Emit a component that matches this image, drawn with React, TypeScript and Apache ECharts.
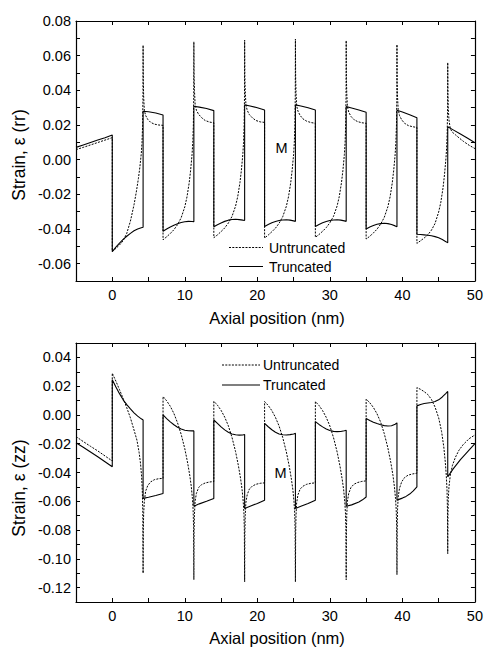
import React, { useEffect, useRef } from 'react';
import * as echarts from 'echarts';

const X_MIN = -5;
const X_MAX = 50;
const RR_MIN = -0.07;
const RR_MAX = 0.08;
const ZZ_MIN = -0.13;
const ZZ_MAX = 0.05;

const seriesNames = ['Untruncated', 'Truncated'];
const xAxisTitle = 'Axial position (nm)';
const rrTitle = 'Strain, ε (rr)';
const zzTitle = 'Strain, ε (zz)';
const regionLabel = 'M';

const rrTruncated: number[][] = [
  [-5, 0.0071], [-4, 0.0085], [-3, 0.0099], [-2, 0.0113], [-1, 0.0127], [0, 0.0142],
  [0, -0.053], [0.5, -0.0505], [1, -0.0482], [1.5, -0.046], [2, -0.0442], [2.5, -0.0425], [3, -0.041], [3.5, -0.04], [4, -0.0393], [4.25, -0.039],
  [4.25, 0.0279], [5, 0.0276], [6, 0.0269], [7, 0.0258],
  [7, -0.0413], [7.5, -0.04], [8, -0.0388], [8.5, -0.0378], [9, -0.037], [9.5, -0.0363], [10, -0.0358], [10.5, -0.0356], [11, -0.0357], [11.25, -0.0358],
  [11.25, 0.0308], [12, 0.0303], [13, 0.0295], [14, 0.0283],
  [14, -0.0387], [14.5, -0.0375], [15, -0.0365], [15.5, -0.0356], [16, -0.0349], [16.5, -0.0345], [17, -0.0344], [17.5, -0.0346], [18, -0.0349], [18.25, -0.035],
  [18.25, 0.0316], [19, 0.031], [20, 0.03], [21, 0.0287],
  [21, -0.0385], [21.5, -0.0374], [22, -0.0364], [22.5, -0.0357], [23, -0.0351], [23.5, -0.0348], [24, -0.0347], [24.5, -0.0349], [25, -0.0353], [25.25, -0.0356],
  [25.25, 0.0316], [26, 0.031], [27, 0.03], [28, 0.0287],
  [28, -0.0385], [28.5, -0.0374], [29, -0.0364], [29.5, -0.0357], [30, -0.0351], [30.5, -0.0348], [31, -0.0347], [31.5, -0.0349], [32, -0.0353], [32.25, -0.0356],
  [32.25, 0.0306], [33, 0.0298], [34, 0.0287], [35, 0.0273],
  [35, -0.04], [35.5, -0.0389], [36, -0.038], [36.5, -0.0373], [37, -0.0369], [37.5, -0.0367], [38, -0.0369], [38.5, -0.0374], [39, -0.0382], [39.25, -0.0387],
  [39.25, 0.0285], [40, 0.0275], [41, 0.0259], [42, 0.0242],
  [42, -0.043], [42.5, -0.0432], [43, -0.0434], [43.5, -0.0436], [44, -0.0439], [44.5, -0.0444], [45, -0.0451], [45.5, -0.0461], [46, -0.0473], [46.25, -0.048],
  [46.25, 0.019], [47, 0.0172], [48, 0.0148], [49, 0.0124], [50, 0.0098],
];

const rrUntruncated: number[][] = [
  [-5, 0.0058], [-4, 0.0071], [-3, 0.0085], [-2, 0.0099], [-1, 0.0113], [0, 0.0127],
  [0, -0.053], [0.5, -0.0512], [1, -0.0492], [1.5, -0.0468], [2, -0.0425], [2.5, -0.0355], [3, -0.026], [3.3, -0.019], [3.6, -0.011], [3.8, -0.0045], [4, 0.0035], [4.1, 0.01], [4.18, 0.0195], [4.23, 0.035], [4.25, 0.066],
  [4.28, 0.045], [4.33, 0.036], [4.42, 0.0285], [4.6, 0.0255], [4.9, 0.0232], [5.3, 0.0215], [5.8, 0.0205], [6.4, 0.02], [7, 0.0198],
  [7, -0.0462], [7.5, -0.0445], [8, -0.0426], [8.5, -0.0404], [9, -0.0375], [9.5, -0.0335], [10, -0.0272], [10.3, -0.0215], [10.6, -0.0135], [10.8, -0.0062], [11, 0.003], [11.1, 0.01], [11.18, 0.02], [11.23, 0.036], [11.25, 0.068],
  [11.28, 0.048], [11.33, 0.04], [11.42, 0.032], [11.6, 0.0285], [11.9, 0.0262], [12.3, 0.0243], [12.8, 0.0226], [13.4, 0.0217], [14, 0.0213],
  [14, -0.045], [14.5, -0.0434], [15, -0.0415], [15.5, -0.0394], [16, -0.0366], [16.5, -0.0328], [17, -0.0268], [17.3, -0.0212], [17.6, -0.0133], [17.8, -0.0061], [18, 0.003], [18.1, 0.01], [18.18, 0.02], [18.23, 0.036], [18.25, 0.069],
  [18.28, 0.048], [18.33, 0.04], [18.42, 0.032], [18.6, 0.0285], [18.9, 0.026], [19.3, 0.0242], [19.8, 0.0226], [20.4, 0.0218], [21, 0.0215],
  [21, -0.0452], [21.5, -0.0435], [22, -0.0416], [22.5, -0.0395], [23, -0.0367], [23.5, -0.0329], [24, -0.0269], [24.3, -0.0213], [24.6, -0.0134], [24.8, -0.0061], [25, 0.003], [25.1, 0.01], [25.18, 0.02], [25.23, 0.036], [25.25, 0.0696],
  [25.28, 0.048], [25.33, 0.039], [25.42, 0.031], [25.6, 0.028], [25.9, 0.0255], [26.3, 0.0235], [26.8, 0.0222], [27.4, 0.0214], [28, 0.021],
  [28, -0.0448], [28.5, -0.0432], [29, -0.0413], [29.5, -0.0392], [30, -0.0364], [30.5, -0.0327], [31, -0.0267], [31.3, -0.0212], [31.6, -0.0133], [31.8, -0.0061], [32, 0.003], [32.1, 0.01], [32.18, 0.02], [32.23, 0.036], [32.25, 0.0687],
  [32.28, 0.047], [32.33, 0.038], [32.42, 0.0305], [32.6, 0.0275], [32.9, 0.025], [33.3, 0.0232], [33.8, 0.022], [34.4, 0.0213], [35, 0.021],
  [35, -0.0458], [35.5, -0.0442], [36, -0.0423], [36.5, -0.0401], [37, -0.0372], [37.5, -0.0333], [38, -0.0271], [38.3, -0.0215], [38.6, -0.0135], [38.8, -0.0062], [39, 0.003], [39.1, 0.01], [39.18, 0.02], [39.23, 0.035], [39.25, 0.0664],
  [39.28, 0.045], [39.33, 0.036], [39.42, 0.029], [39.6, 0.0255], [39.9, 0.023], [40.3, 0.021], [40.8, 0.0197], [41.4, 0.019], [42, 0.0186],
  [42, -0.0483], [42.5, -0.0468], [43, -0.0452], [43.5, -0.0434], [44, -0.0407], [44.5, -0.0368], [45, -0.0302], [45.3, -0.0245], [45.6, -0.0163], [45.8, -0.0088], [46, 0.0005], [46.1, 0.007], [46.18, 0.016], [46.23, 0.03], [46.25, 0.056],
  [46.28, 0.038], [46.33, 0.029], [46.42, 0.023], [46.6, 0.0178], [46.9, 0.0158], [47.3, 0.0144], [47.8, 0.0126], [48.4, 0.0106], [49.2, 0.0083], [50, 0.0064],
];

const zzTruncated: number[][] = [
  [-5, -0.0193], [-4, -0.0225], [-3, -0.0258], [-2, -0.0291], [-1, -0.0325], [0, -0.036],
  [0, 0.0245], [0.5, 0.0195], [1, 0.0148], [1.5, 0.0105], [2, 0.0072], [2.5, 0.0042], [3, 0.0015], [3.5, -0.0008], [4, -0.0027], [4.25, -0.0035],
  [4.25, -0.058], [5, -0.0572], [6, -0.056], [7, -0.0546],
  [7, 0], [7.5, -0.0025], [8, -0.0048], [8.5, -0.0068], [9, -0.0085], [9.5, -0.0098], [10, -0.0106], [10.5, -0.011], [11, -0.0111], [11.25, -0.0111],
  [11.25, -0.0634], [12, -0.0618], [13, -0.06], [14, -0.058],
  [14, -0.0035], [14.5, -0.0058], [15, -0.0083], [15.5, -0.0104], [16, -0.012], [16.5, -0.0132], [17, -0.0138], [17.5, -0.014], [18, -0.0139], [18.25, -0.0136],
  [18.25, -0.065], [19, -0.0635], [20, -0.0615], [21, -0.0592],
  [21, -0.0058], [21.5, -0.0082], [22, -0.0103], [22.5, -0.012], [23, -0.0132], [23.5, -0.0138], [24, -0.0139], [24.5, -0.0137], [25, -0.0132], [25.25, -0.0128],
  [25.25, -0.065], [26, -0.0635], [27, -0.0615], [28, -0.0592],
  [28, -0.0046], [28.5, -0.0066], [29, -0.0083], [29.5, -0.0097], [30, -0.0108], [30.5, -0.0114], [31, -0.0116], [31.5, -0.0115], [32, -0.011], [32.25, -0.0106],
  [32.25, -0.0634], [33, -0.0625], [34, -0.0605], [34.5, -0.059], [35, -0.057],
  [35, -0.0025], [35.5, -0.0038], [36, -0.005], [36.5, -0.006], [37, -0.0068], [37.5, -0.0074], [38, -0.0077], [38.5, -0.0075], [39, -0.0065], [39.25, -0.0055],
  [39.25, -0.0592], [40, -0.0578], [40.5, -0.0566], [41, -0.055], [41.5, -0.0528], [42, -0.05],
  [42, 0.0063], [42.5, 0.0072], [43, 0.0079], [43.5, 0.0083], [44, 0.0086], [44.5, 0.0093], [45, 0.0105], [45.5, 0.0125], [46, 0.015], [46.25, 0.0163],
  [46.25, -0.043], [47, -0.0375], [48, -0.031], [49, -0.0255], [50, -0.02],
];

const zzUntruncated: number[][] = [
  [-5, -0.015], [-4, -0.0185], [-3, -0.0218], [-2, -0.025], [-1, -0.0285], [0, -0.032],
  [0, 0.029], [0.5, 0.0235], [1, 0.0175], [1.5, 0.0115], [2, 0.005], [2.5, -0.002], [3, -0.0105], [3.4, -0.0175], [3.7, -0.026], [3.9, -0.034], [4.05, -0.043], [4.15, -0.054], [4.21, -0.068], [4.25, -0.11],
  [4.28, -0.08], [4.33, -0.068], [4.42, -0.06], [4.6, -0.053], [4.9, -0.049], [5.3, -0.0465], [5.8, -0.045], [6.4, -0.0443], [7, -0.0441],
  [7, 0.0128], [7.5, 0.0098], [8, 0.006], [8.5, 0.001], [9, -0.0055], [9.5, -0.0135], [10, -0.0235], [10.4, -0.0335], [10.7, -0.0425], [10.9, -0.05], [11.05, -0.058], [11.15, -0.066], [11.21, -0.078], [11.25, -0.1145],
  [11.28, -0.082], [11.33, -0.069], [11.42, -0.06], [11.6, -0.0545], [11.9, -0.0505], [12.3, -0.0485], [12.8, -0.0473], [13.4, -0.0466], [14, -0.0463],
  [14, 0.0095], [14.5, 0.0068], [15, 0.0032], [15.5, -0.0015], [16, -0.0075], [16.5, -0.0155], [17, -0.0255], [17.4, -0.0355], [17.7, -0.0445], [17.9, -0.052], [18.05, -0.06], [18.15, -0.068], [18.21, -0.08], [18.25, -0.116],
  [18.28, -0.083], [18.33, -0.07], [18.42, -0.061], [18.6, -0.0555], [18.9, -0.0515], [19.3, -0.0495], [19.8, -0.0482], [20.4, -0.0475], [21, -0.0472],
  [21, 0.0093], [21.5, 0.0066], [22, 0.003], [22.5, -0.0017], [23, -0.0077], [23.5, -0.0157], [24, -0.0257], [24.4, -0.0357], [24.7, -0.0447], [24.9, -0.052], [25.05, -0.06], [25.15, -0.068], [25.21, -0.08], [25.25, -0.116],
  [25.28, -0.083], [25.33, -0.07], [25.42, -0.061], [25.6, -0.0555], [25.9, -0.0515], [26.3, -0.0495], [26.8, -0.0482], [27.4, -0.0475], [28, -0.0472],
  [28, 0.0093], [28.5, 0.0066], [29, 0.003], [29.5, -0.0017], [30, -0.0077], [30.5, -0.0157], [31, -0.0257], [31.4, -0.0357], [31.7, -0.0447], [31.9, -0.052], [32.05, -0.06], [32.15, -0.068], [32.21, -0.08], [32.25, -0.1145],
  [32.28, -0.082], [32.33, -0.069], [32.42, -0.06], [32.6, -0.0545], [32.9, -0.0505], [33.3, -0.0482], [33.8, -0.047], [34.4, -0.0462], [35, -0.0458],
  [35, 0.011], [35.5, 0.0085], [36, 0.0052], [36.5, 0.0008], [37, -0.005], [37.5, -0.013], [38, -0.023], [38.4, -0.033], [38.7, -0.042], [38.9, -0.05], [39.05, -0.058], [39.15, -0.066], [39.21, -0.078], [39.25, -0.111],
  [39.28, -0.08], [39.33, -0.066], [39.42, -0.057], [39.6, -0.051], [39.9, -0.0465], [40.3, -0.0435], [40.8, -0.0418], [41.4, -0.041], [42, -0.0405],
  [42, 0.019], [42.5, 0.0178], [43, 0.0162], [43.5, 0.0142], [44, 0.0108], [44.5, 0.0055], [45, -0.002], [45.4, -0.0115], [45.7, -0.022], [45.9, -0.032], [46.05, -0.042], [46.15, -0.052], [46.21, -0.065], [46.25, -0.0964],
  [46.28, -0.07], [46.33, -0.058], [46.42, -0.05], [46.6, -0.042], [46.9, -0.035], [47.3, -0.0295], [47.8, -0.0245], [48.4, -0.0205], [49.2, -0.0165], [50, -0.0139],
];

const FONT = '"Liberation Sans", Arial, Helvetica, sans-serif';
const DASH = [2, 1.3];

function xFmt(v: number) {
  const r = Math.round(v);
  return r % 10 === 0 ? String(r) : '';
}
function yFmt(v: number) {
  const k = Math.round(v * 100);
  return k % 2 === 0 ? (k / 100).toFixed(2) : '';
}

function makeXAxis(grid: number, position: 'bottom' | 'top') {
  return {
    type: 'value',
    gridIndex: grid,
    position,
    min: X_MIN,
    max: X_MAX,
    interval: 5,
    axisLine: { show: true, onZero: false, lineStyle: { color: '#000', width: 1.2 } },
    axisTick: { show: true, inside: true, length: 4, lineStyle: { color: '#000', width: 1 } },
    axisLabel: {
      show: position === 'bottom',
      formatter: xFmt,
      margin: 6,
      color: '#000',
      fontSize: 14.5,
      fontFamily: FONT,
    },
    splitLine: { show: false },
  };
}

function makeYAxis(grid: number, position: 'left' | 'right', min: number, max: number) {
  return {
    type: 'value',
    gridIndex: grid,
    position,
    min,
    max,
    interval: 0.01,
    axisLine: { show: true, onZero: false, lineStyle: { color: '#000', width: 1.2 } },
    axisTick: { show: true, inside: true, length: 4, lineStyle: { color: '#000', width: 1 } },
    axisLabel: {
      show: position === 'left',
      formatter: yFmt,
      margin: 5,
      color: '#000',
      fontSize: 14.5,
      fontFamily: FONT,
    },
    splitLine: { show: false },
  };
}

const dashedStyle = { color: '#000', width: 1, type: DASH };
const solidStyle = { color: '#000', width: 1.1, type: 'solid' };

function lineSeries(name: string, data: number[][], axis: number, style: any) {
  return {
    name,
    type: 'line',
    xAxisIndex: axis * 2,
    yAxisIndex: axis * 2,
    data,
    symbol: 'none',
    showSymbol: false,
    lineStyle: style,
    silent: true,
  };
}

function legendItems(x1: number, x2: number, y1: number, y2: number, tx: number) {
  const font = `14px ${FONT}`;
  return [
    { type: 'line', shape: { x1, y1, x2, y2: y1 }, style: { stroke: '#000', lineWidth: 1, lineDash: DASH } },
    { type: 'text', x: tx, y: y1, style: { text: seriesNames[0], font, fill: '#000', verticalAlign: 'middle', align: 'left' } },
    { type: 'line', shape: { x1, y1: y2, x2, y2 }, style: { stroke: '#000', lineWidth: 1.1 } },
    { type: 'text', x: tx, y: y2, style: { text: seriesNames[1], font, fill: '#000', verticalAlign: 'middle', align: 'left' } },
  ];
}

export default function App() {
  const ref = useRef<HTMLDivElement>(null);
  useEffect(() => {
    document.body.style.margin = '0';
    if (!ref.current) return;
    const chart = echarts.init(ref.current, undefined, { renderer: 'svg' });
    const titleFont = `16.5px ${FONT}`;
    const yTitleFont = `17.5px ${FONT}`;
    chart.setOption({
      animation: false,
      backgroundColor: '#fff',
      grid: [
        { left: 76, top: 21, width: 402, height: 260 },
        { left: 76, top: 343, width: 402, height: 259 },
      ],
      xAxis: [makeXAxis(0, 'bottom'), makeXAxis(0, 'top'), makeXAxis(1, 'bottom'), makeXAxis(1, 'top')],
      yAxis: [
        makeYAxis(0, 'left', RR_MIN, RR_MAX),
        makeYAxis(0, 'right', RR_MIN, RR_MAX),
        makeYAxis(1, 'left', ZZ_MIN, ZZ_MAX),
        makeYAxis(1, 'right', ZZ_MIN, ZZ_MAX),
      ],
      series: [
        lineSeries(seriesNames[0], rrUntruncated, 0, dashedStyle),
        lineSeries(seriesNames[1], rrTruncated, 0, solidStyle),
        lineSeries(seriesNames[0], zzUntruncated, 1, dashedStyle),
        lineSeries(seriesNames[1], zzTruncated, 1, solidStyle),
      ],
      graphic: [
        ...legendItems(229, 263, 247.5, 266.5, 269),
        ...legendItems(222, 260, 365, 385, 263),
        { type: 'text', x: 281.5, y: 148, style: { text: regionLabel, font: `14.5px ${FONT}`, fill: '#000', align: 'center', verticalAlign: 'middle' } },
        { type: 'text', x: 280.5, y: 473, style: { text: regionLabel, font: `14.5px ${FONT}`, fill: '#000', align: 'center', verticalAlign: 'middle' } },
        { type: 'text', x: 277, y: 318, style: { text: xAxisTitle, font: titleFont, fill: '#000', align: 'center', verticalAlign: 'middle' } },
        { type: 'text', x: 277, y: 638, style: { text: xAxisTitle, font: titleFont, fill: '#000', align: 'center', verticalAlign: 'middle' } },
        { type: 'text', x: 19, y: 155, rotation: Math.PI / 2, style: { text: rrTitle, font: yTitleFont, fill: '#000', align: 'center', verticalAlign: 'middle' } },
        { type: 'text', x: 19, y: 488, rotation: Math.PI / 2, style: { text: zzTitle, font: yTitleFont, fill: '#000', align: 'center', verticalAlign: 'middle' } },
      ],
    });
    return () => chart.dispose();
  }, []);
  return <div ref={ref} style={{ position: 'absolute', left: 0, top: 0, width: 486, height: 649 }} />;
}
